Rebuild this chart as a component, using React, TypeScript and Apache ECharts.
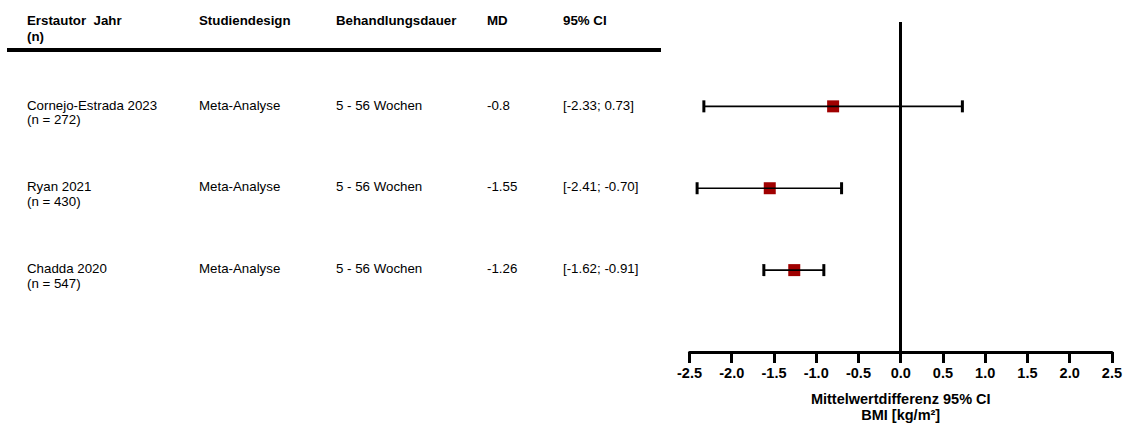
import React, { useEffect, useRef } from "react";
import * as echarts from "echarts";

// ---- data ----
const headers = ["Erstautor  Jahr\n(n)", "Studiendesign", "Behandlungsdauer", "MD", "95% CI"];
const authors = ["Cornejo-Estrada 2023", "Ryan 2021", "Chadda 2020"];
const sampleSizes = [272, 430, 547];
const designs = ["Meta-Analyse", "Meta-Analyse", "Meta-Analyse"];
const durations = ["5 - 56 Wochen", "5 - 56 Wochen", "5 - 56 Wochen"];
const md = [-0.8, -1.55, -1.26];
const ciLow = [-2.33, -2.41, -1.62];
const ciHigh = [0.73, -0.7, -0.91];
const rowPos = [3, 2, 1];
const xTicks = { min: -2.5, max: 2.5, interval: 0.5 };
const axisName = "Mittelwertdifferenz 95% CI\nBMI [kg/m²]";

const FONT = '"Liberation Sans", Arial, Helvetica, sans-serif';
const colX = [27, 199, 336, 487, 563];

export default function App() {
  const ref = useRef<HTMLDivElement>(null);
  useEffect(() => {
    if (!ref.current) return;
    const chart = echarts.init(ref.current, null, { renderer: "svg" });
    const option: any = {
      animation: false,
      grid: { left: 689.5, right: 12, top: 22, bottom: 78 },
      xAxis: {
        type: "value",
        min: xTicks.min,
        max: xTicks.max,
        interval: xTicks.interval,
        splitLine: { show: false },
        axisLine: { show: true, onZero: false, lineStyle: { color: "#000", width: 3 } },
        axisTick: { show: true, inside: false, length: 11, lineStyle: { color: "#000", width: 3 } },
        axisLabel: {
          margin: 13,
          color: "#000",
          fontFamily: FONT,
          fontWeight: "bold",
          fontSize: 14.5,
          formatter: (v: number) => v.toFixed(1),
        },
        name: axisName,
        nameLocation: "middle",
        nameGap: 39,
        nameTextStyle: {
          color: "#000",
          fontFamily: FONT,
          fontWeight: "bold",
          fontSize: 14.5,
          lineHeight: 16,
          verticalAlign: "top",
        },
      },
      yAxis: {
        type: "value",
        min: 0,
        max: 4.03,
        show: false,
      },
      series: [
        {
          type: "scatter",
          symbol: "rect",
          symbolSize: 12,
          itemStyle: { color: "#a00000", opacity: 1 },
          data: md.map((v, i) => [v, rowPos[i]]),
          z: 2,
          markLine: {
            silent: true,
            symbol: "none",
            label: { show: false },
            lineStyle: { color: "#000", width: 3, type: "solid" },
            data: [{ xAxis: 0 }],
          },
        },
        {
          type: "custom",
          z: 3,
          data: ciLow.map((l, i) => [l, ciHigh[i], rowPos[i]]),
          renderItem: (params: any, api: any) => {
            const p1 = api.coord([api.value(0), api.value(2)]);
            const p2 = api.coord([api.value(1), api.value(2)]);
            const capH = 12;
            const capW = 3;
            return {
              type: "group",
              children: [
                {
                  type: "line",
                  shape: { x1: p1[0], y1: p1[1], x2: p2[0], y2: p2[1] },
                  style: { stroke: "#000", lineWidth: 1.6 },
                },
                {
                  type: "rect",
                  shape: { x: p1[0] - capW / 2, y: p1[1] - capH / 2, width: capW, height: capH },
                  style: { fill: "#000" },
                },
                {
                  type: "rect",
                  shape: { x: p2[0] - capW / 2, y: p2[1] - capH / 2, width: capW, height: capH },
                  style: { fill: "#000" },
                },
              ],
            };
          },
        },
      ],
    };
    chart.setOption(option);

    const textEl = (text: string, x: number, y: number, bold: boolean) => ({
      type: "text",
      x,
      y,
      style: {
        text,
        fill: "#000",
        fontFamily: FONT,
        fontSize: 13.3,
        fontWeight: bold ? "bold" : "normal",
        align: "left",
        verticalAlign: "middle",
        lineHeight: 16.5,
      },
    });

    const graphics: any[] = [];
    // headers
    headers.forEach((h, i) => {
      if (i === 0) {
        const lines = h.split("\n");
        graphics.push(textEl(lines[0], colX[0], 20, true));
        graphics.push(textEl(lines[1], colX[0], 36, true));
      } else {
        graphics.push(textEl(h, colX[i], 20, true));
      }
    });
    graphics.push({
      type: "rect",
      shape: { x: 7, y: 48, width: 654, height: 4 },
      style: { fill: "#000" },
    });
    authors.forEach((a, i) => {
      const y = chart.convertToPixel({ gridIndex: 0 }, [0, rowPos[i]])[1];
      graphics.push(textEl(a, colX[0], y - 1.3, false));
      graphics.push(textEl(`(n = ${sampleSizes[i]})`, colX[0], y + 13.5, false));
      graphics.push(textEl(designs[i], colX[1], y - 1.3, false));
      graphics.push(textEl(durations[i], colX[2], y - 1.3, false));
      graphics.push(textEl(String(md[i]), colX[3], y - 1.3, false));
      graphics.push(
        textEl(`[${ciLow[i].toFixed(2)}; ${ciHigh[i].toFixed(2)}]`, colX[4], y - 1.3, false)
      );
    });
    chart.setOption({ graphic: graphics });

    return () => chart.dispose();
  }, []);
  return (
    <div
      ref={ref}
      style={{ position: "fixed", left: 0, top: 0, width: 1125, height: 430, background: "#fff" }}
    />
  );
}
